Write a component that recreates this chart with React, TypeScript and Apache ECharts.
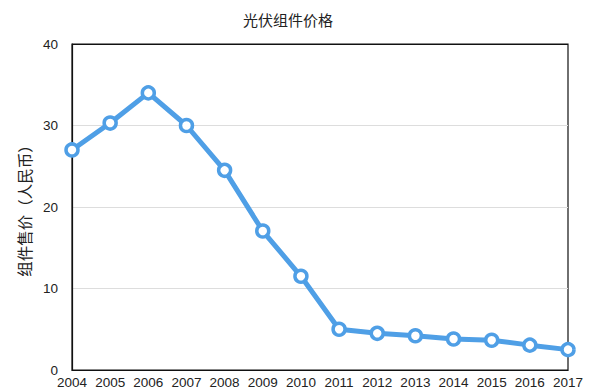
import React, { useEffect, useRef } from "react";
import * as echarts from "echarts";

const years = ["2004", "2005", "2006", "2007", "2008", "2009", "2010", "2011", "2012", "2013", "2014", "2015", "2016", "2017"];
const prices = [27.0, 30.3, 34.0, 30.0, 24.5, 17.05, 11.5, 5.0, 4.5, 4.2, 3.8, 3.65, 3.05, 2.5];
const titleText = "光伏组件价格";
const yName = "组件售价（人民币）";

export default function App() {
  const ref = useRef<HTMLDivElement>(null);
  useEffect(() => {
    if (!ref.current) return;
    const chart = echarts.init(ref.current, undefined, { renderer: "svg" });
    const font = "'Liberation Sans', Arial, 'Noto Sans CJK SC', sans-serif";
    chart.setOption({
      animation: false,
      backgroundColor: "#fff",
      title: {
        text: titleText,
        left: 283,
        textAlign: "center",
        top: 7,
        textStyle: { fontSize: 15, fontWeight: "normal", color: "#222", fontFamily: "'Noto Sans CJK SC', sans-serif" },
      },
      grid: { left: 72, right: 22, top: 44, bottom: 21, show: true, borderColor: "#111", borderWidth: 1.2, backgroundColor: "transparent" },
      xAxis: {
        type: "category",
        data: years,
        boundaryGap: false,
        axisLine: { lineStyle: { color: "#111", width: 1.2 } },
        axisTick: { show: false },
        axisLabel: { color: "#222", fontSize: 13.5, margin: 6, fontFamily: font, interval: 0 },
      },
      yAxis: {
        type: "value",
        min: 0,
        max: 40,
        interval: 10,
        name: yName,
        nameLocation: "middle",
        nameGap: 38,
        nameTextStyle: { fontSize: 15.5, color: "#222", fontFamily: "'Noto Sans CJK SC', sans-serif" },
        axisLine: { show: true, lineStyle: { color: "#111", width: 1.2 } },
        axisTick: { show: false },
        axisLabel: { color: "#222", fontSize: 13.5, margin: 14, fontFamily: font },
        splitLine: { lineStyle: { color: ["#111", "#dddddd", "#dddddd", "#dddddd", "#111"], width: 1 } },
      },
      series: [
        {
          type: "line",
          data: prices,
          symbol: "circle",
          symbolSize: 12,
          lineStyle: { color: "#4f9fe6", width: 5 },
          itemStyle: { color: "#fff", borderColor: "#4f9fe6", borderWidth: 3.5 },
          z: 5,
        },
      ],
    });
    return () => chart.dispose();
  }, []);
  return <div ref={ref} style={{ width: 590, height: 391, position: "absolute", left: 0, top: 0 }} />;
}
